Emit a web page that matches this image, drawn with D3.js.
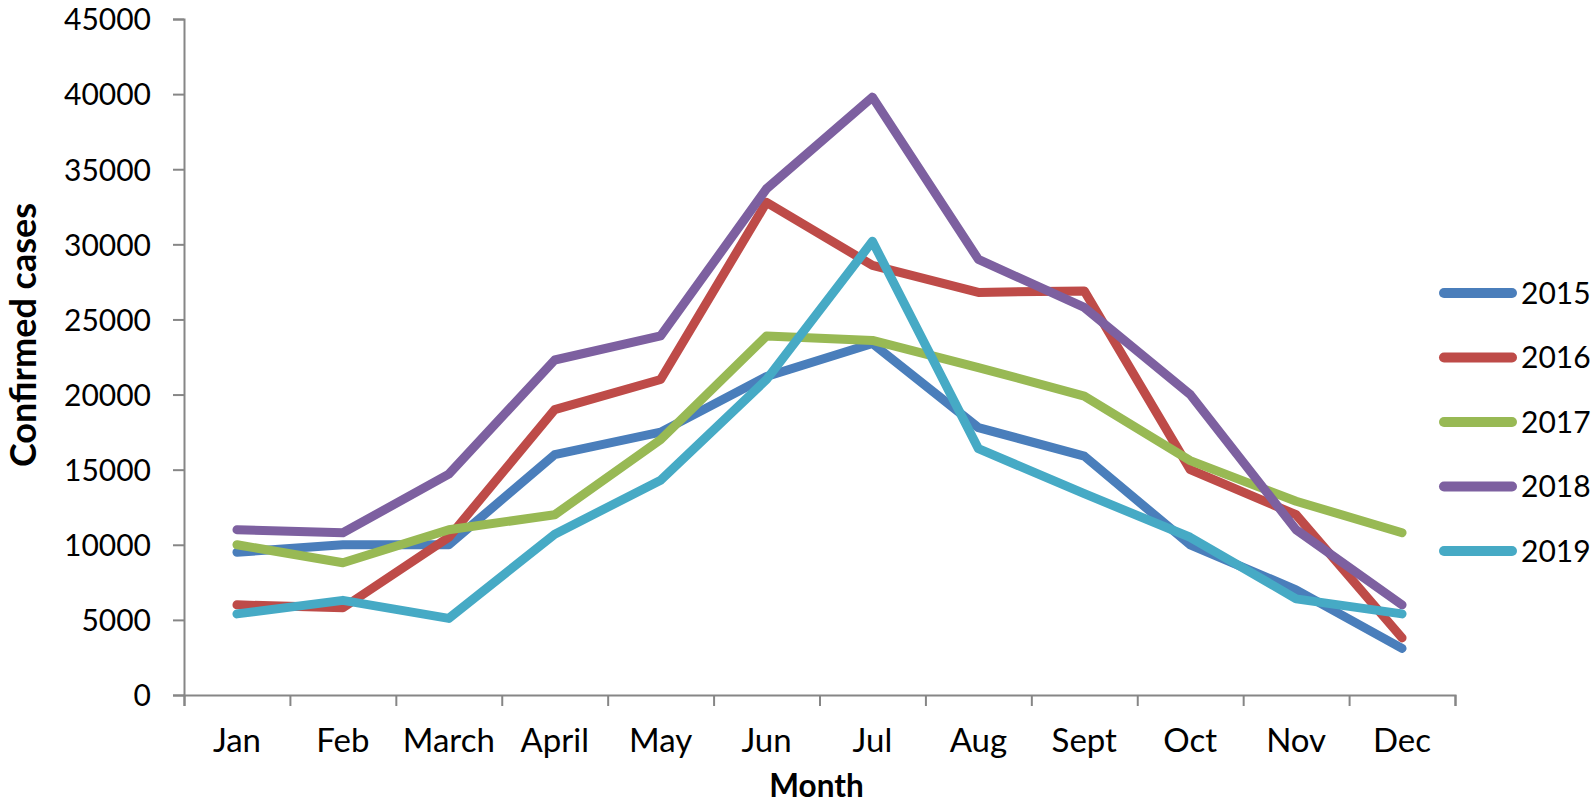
<!DOCTYPE html>
<html>
<head>
<meta charset="utf-8">
<script src="https://cdn.jsdelivr.net/npm/d3@7"></script>
<style>
  body { margin: 0; background: #fff; }
  svg { display: block; font-family: Lato, "Open Sans", sans-serif; }
</style>
</head>
<body>
<div id="chart"></div>
<script>
const months = ['Jan', 'Feb', 'March', 'April', 'May', 'Jun', 'Jul', 'Aug', 'Sept', 'Oct', 'Nov', 'Dec']
const years = ['2015', '2016', '2017', '2018', '2019']
const yTicks = [0, 5000, 10000, 15000, 20000, 25000, 30000, 35000, 40000, 45000]

const cases2015 = [9500, 10000, 10000, 16000, 17500, 21200, 23400, 17800, 15900, 10000, 7000, 3100]
const cases2016 = [6000, 5800, 10500, 19000, 21000, 32800, 28600, 26800, 26900, 15000, 12000, 3800]
const cases2017 = [10000, 8800, 11000, 12000, 17000, 23900, 23600, 21800, 19900, 15600, 12900, 10800]
const cases2018 = [11000, 10800, 14700, 22300, 23900, 33700, 39800, 29000, 25800, 20000, 11000, 6000]
const cases2019 = [5400, 6300, 5100, 10700, 14300, 21000, 30200, 16400, 13400, 10500, 6400, 5400]

const colors = ['#4a7ebb', '#be4b48', '#98b954', '#7d60a0', '#46aac5']

const series = [cases2015, cases2016, cases2017, cases2018, cases2019]
  .map((values, i) => ({name: years[i], values: values, color: colors[i]}))

const W = 1594, H = 807
const plot = {left: 184, right: 1455, top: 19, bottom: 695}
const axisColor = '#868686'

const svg = d3.select('#chart').append('svg')
  .attr('width', W)
  .attr('height', H)

const x = d3.scaleBand()
  .domain(months)
  .range([plot.left, plot.right])

const xEdges = d3.scaleLinear()
  .domain([0, months.length])
  .range([plot.left, plot.right])

const y = d3.scaleLinear()
  .domain([0, 45000])
  .range([plot.bottom, plot.top])

// y axis
const yAxis = svg.append('g')
  .attr('transform', `translate(${plot.left},0)`)
  .call(d3.axisLeft(y).tickValues(yTicks).tickSize(11).tickPadding(22).tickFormat(d3.format('d')))
yAxis.select('.domain').attr('stroke', axisColor).attr('stroke-width', 2)
yAxis.selectAll('.tick line').attr('stroke', axisColor).attr('stroke-width', 2)
yAxis.selectAll('.tick text')
  .attr('fill', '#000')
  .attr('font-size', 30)
  .attr('font-family', 'Lato, sans-serif')
  .attr('dy', '0.36em')

// x axis: ticks sit between categories
const xAxis = svg.append('g')
  .attr('transform', `translate(0,${plot.bottom})`)
  .call(d3.axisBottom(xEdges).tickValues(d3.range(months.length + 1)).tickSize(11).tickFormat(''))
xAxis.select('.domain').attr('stroke', axisColor).attr('stroke-width', 2)
xAxis.selectAll('.tick line').attr('stroke', axisColor).attr('stroke-width', 2)

svg.append('g')
  .selectAll('text')
  .data(months)
  .enter()
    .append('text')
    .attr('x', d => x(d) + x.bandwidth() / 2)
    .attr('y', 752)
    .attr('text-anchor', 'middle')
    .attr('font-size', 33)
    .text(d => d)

// axis titles
svg.append('text')
  .attr('x', (plot.left + plot.right) / 2 - 3)
  .attr('y', 797)
  .attr('text-anchor', 'middle')
  .attr('font-size', 31.5)
  .attr('font-weight', 'bold')
  .text('Month')

svg.append('text')
  .attr('transform', 'translate(36,335) rotate(-90)')
  .attr('text-anchor', 'middle')
  .attr('font-size', 36)
  .attr('font-weight', 'bold')
  .text('Confirmed cases')

// lines
const line = d3.line()
  .x((d, i) => x(months[i]) + x.bandwidth() / 2)
  .y(d => y(d))

svg.append('g')
  .selectAll('path')
  .data(series)
  .enter()
    .append('path')
    .attr('d', d => line(d.values))
    .attr('fill', 'none')
    .attr('stroke', d => d.color)
    .attr('stroke-width', 9)
    .attr('stroke-linejoin', 'round')
    .attr('stroke-linecap', 'round')

// legend
const legend = svg.append('g')
  .selectAll('g')
  .data(series)
  .enter()
    .append('g')
    .attr('transform', (d, i) => `translate(0,${293 + i * 64.5})`)

legend.append('line')
  .attr('x1', 1444)
  .attr('x2', 1512)
  .attr('stroke', d => d.color)
  .attr('stroke-width', 10)
  .attr('stroke-linecap', 'round')

legend.append('text')
  .attr('x', 1521)
  .attr('dy', '0.36em')
  .attr('font-size', 30)
  .text(d => d.name)
</script>
</body>
</html>
